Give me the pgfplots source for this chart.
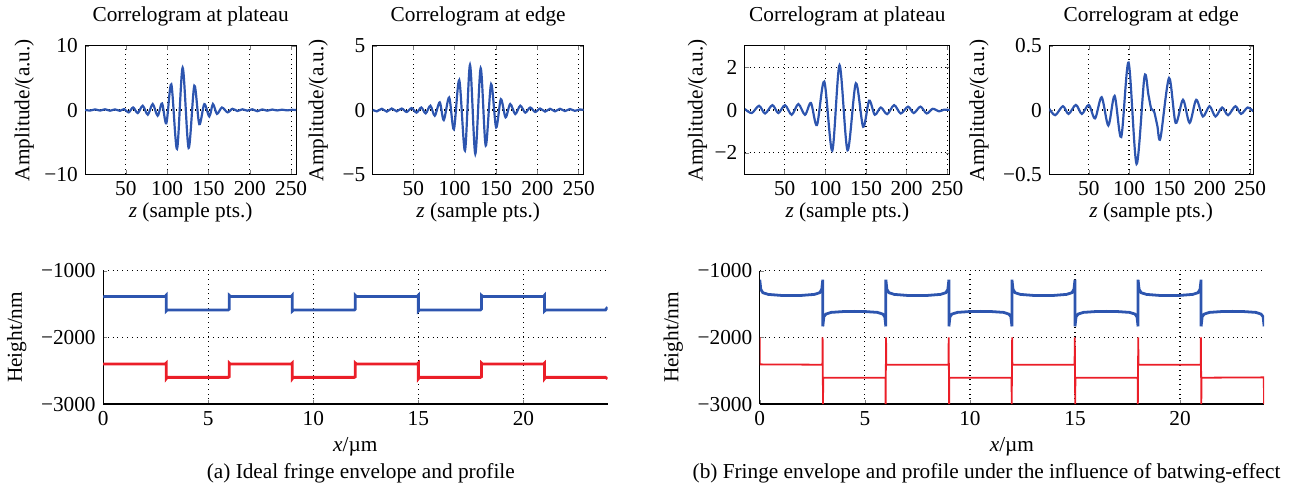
\documentclass[border=0pt]{standalone}
\usepackage{fontspec}
\setmainfont{Liberation Serif}
\usepackage{pgfplots}
\pgfplotsset{compat=1.18}
\definecolor{cblue}{RGB}{45,85,175}
\definecolor{cred}{RGB}{235,30,40}
\pgfplotsset{
  base/.style={scale only axis, anchor=south west,
    grid=major, grid style={dotted, black, line width=0.6pt},
    major tick length=2pt, tick align=inside,
    axis line style={line width=0.6pt},
    tick label style={font=\rmfamily},
    /pgf/number format/assume math mode=true},
  corr/.style={base, height=64.5pt, xmin=1, xmax=256,
    xtick={50,100,150,200,250},
    xlabel={\textit{z} (sample pts.)}, ylabel={Amplitude/(a.u.)},
    xlabel style={yshift=4pt}},
  prof/.style={base, width=253.5pt, height=67pt, xmin=0, xmax=24,
    ymin=-3000, ymax=-1000, xtick={0,5,10,15,20},
    ytick={-3000,-2000,-1000}, yticklabels={−3000,−2000,−1000},
    axis x line*=bottom, axis y line*=left,
    xlabel style={yshift=1.5pt},
    xlabel={\textit{x}/µm}, ylabel={Height/nm}},
  curve/.style={cblue, line width=1.1pt, smooth, no marks},
  step/.style={line width=1.4pt, no marks},
}
\begin{document}
\fontsize{10.7}{12.8}\selectfont
\begin{tikzpicture}
\path (0pt,0pt) rectangle (646.5pt,242pt);

% (a) top left
\begin{axis}[corr, at={(39.5pt,156.5pt)}, width=106pt,
  ymin=-10, ymax=10, ytick={-10,0,10}, yticklabels={−10,0,10},
  ylabel shift=-2pt, title={Correlogram at plateau}]
\addplot[curve] coordinates {(1,0.02) (7,-0.08) (13,0.1) (19,-0.08) (25,0.12) (31,-0.1) (37,0.1) (43,-0.12) (48,0.15) (53.6,-0.36) (58.9,0.41) (64.5,-0.47) (70.5,0.67) (76.6,-0.72) (82.6,0.93) (88.6,-0.88) (93.9,1.03) (99.1,-2.07) (105.1,4.0) (112,-6.05) (118.8,6.6) (126,-5.9) (132.9,3.8) (138.9,-2.2) (145,0.93) (151,-1.0) (155.4,0.93) (160.3,-0.6) (166.3,0.4) (173.1,-0.36) (179,0.2) (185,-0.15) (191,0.12) (197,-0.1) (203,0.12) (209,-0.18) (215,0.1) (221,-0.1) (227,0.08) (233,-0.06) (239,0.06) (245,-0.05) (251,0.04) (256,0)};
\end{axis}

% (a) top right
\begin{axis}[corr, at={(184pt,156.5pt)}, width=106pt,
  ymin=-5, ymax=5, ytick={-5,0,5}, yticklabels={−5,0,5},
  title={Correlogram at edge}]
\addplot[curve] coordinates {(1,0.02) (6,-0.1) (12,0.1) (18,-0.12) (24,0.12) (30,-0.1) (36,0.12) (42,-0.15) (48,0.15) (54,-0.2) (59.7,0.2) (65,-0.26) (70.7,0.34) (76,-0.44) (82,0.6) (86.9,-0.78) (93.4,0.98) (99.1,-1.5) (105.6,2.33) (112.5,-3.16) (118.6,3.52) (125,-3.42) (131.5,3.26) (137.6,-2.77) (144.1,2.02) (150.2,-1.35) (155.9,0.85) (161.6,-0.57) (167.2,0.47) (173.3,-0.31) (179.4,0.34) (185.4,-0.2) (191.4,0.2) (197.4,-0.15) (203.4,0.12) (209.4,-0.12) (215.4,0.1) (221.4,-0.1) (227.4,0.1) (233.4,-0.08) (239.4,0.08) (245.4,-0.06) (251.4,0.05) (256,0)};
\end{axis}

% (b) top left
\begin{axis}[corr, at={(371pt,156.5pt)}, width=103pt, xmax=253,
  ymin=-3, ymax=3, ytick={-2,0,2}, yticklabels={−2,0,2},
  ylabel shift=-3.5pt, title={Correlogram at plateau}]
\addplot[curve] coordinates {(1,0.05) (9.5,-0.14) (18.5,0.2) (25.9,-0.16) (34.9,0.23) (42.2,-0.14) (50.4,0.23) (58.6,-0.22) (66.8,0.28) (75,-0.22) (82.3,0.33) (89.7,-0.7) (98.7,1.33) (108.5,-1.9) (117.5,2.1) (127.3,-1.88) (137.5,1.25) (146.5,-0.78) (153.9,0.44) (160.8,-0.22) (168.2,0.12) (176,-0.19) (184.6,0.23) (192.7,-0.16) (201.7,0.16) (208.7,-0.14) (216.9,0.16) (224.6,-0.16) (232,0.06) (240,-0.06) (246,0.02) (253,0)};
\end{axis}

% (b) top right
\begin{axis}[corr, at={(524pt,156.5pt)}, width=102.5pt, xmax=254,
  ymin=-0.5, ymax=0.5, ytick={-0.5,0,0.5}, yticklabels={−0.5,0,0.5},
  title={Correlogram at edge}]
\addplot[curve] coordinates {(1,0.01) (8.4,-0.04) (17.9,0.03) (24.9,-0.03) (34,0.04) (41.4,-0.03) (50,0.04) (57.8,-0.065) (66,0.1) (74.3,-0.12) (82.1,0.11) (90.3,-0.21) (99.4,0.37) (109.3,-0.42) (119.1,0.26) (124,0.12) (127.5,0.01) (131,-0.01) (135,-0.12) (138.9,-0.22) (149.6,0.25) (157.8,-0.10) (166.9,0.08) (175.1,-0.1) (183.3,0.08) (191.6,-0.05) (199.8,0.03) (207.2,-0.05) (215.4,0.02) (222.8,-0.04) (231.9,0.03) (238.9,-0.03) (247.1,0.02) (254,-0.01)};
\end{axis}

% (a) profile
\begin{axis}[prof, at={(48.5pt,41pt)}]
\addplot[step, cblue] coordinates {(0,-1395) (0.1,-1385) (2.95,-1385) (3,-1368) (3,-1605) (3.05,-1590) (5.95,-1590) (6,-1575) (6,-1370) (6.05,-1385) (8.95,-1385) (9,-1368) (9,-1605) (9.05,-1590) (11.95,-1590) (12,-1575) (12,-1370) (12.05,-1385) (14.95,-1385) (15,-1368) (15,-1605) (15.05,-1590) (17.95,-1590) (18,-1575) (18,-1370) (18.05,-1385) (20.95,-1385) (21,-1368) (21,-1605) (21.05,-1590) (23.9,-1590) (24,-1545)};
\addplot[step, cred] coordinates {(0,-2400) (2.95,-2400) (3,-2385) (3,-2620) (3.05,-2600) (5.95,-2600) (6,-2590) (6,-2385) (6.05,-2400) (8.95,-2400) (9,-2385) (9,-2620) (9.05,-2600) (11.95,-2600) (12,-2590) (12,-2385) (12.05,-2400) (14.95,-2400) (15,-2385) (15,-2620) (15.05,-2600) (17.95,-2600) (18,-2590) (18,-2385) (18.05,-2400) (20.95,-2400) (21,-2385) (21,-2620) (21.05,-2600) (23.9,-2600) (24,-2620)};
\end{axis}

% (b) profile
\begin{axis}[prof, at={(378.5pt,41pt)}]
\addplot[step, cblue] coordinates {
(0,-1135) (0.05,-1280) (0.15,-1330) (0.4,-1355) (1,-1370) (1.5,-1372) (2,-1370) (2.6,-1355) (2.85,-1330) (2.95,-1280) (3,-1135)
(3,-1835) (3.05,-1690) (3.15,-1650) (3.4,-1625) (4,-1612) (4.5,-1610) (5,-1612) (5.6,-1625) (5.85,-1650) (5.95,-1690) (6,-1835)
(6,-1135) (6.05,-1280) (6.15,-1330) (6.4,-1355) (7,-1370) (7.5,-1372) (8,-1370) (8.6,-1355) (8.85,-1330) (8.95,-1280) (9,-1135)
(9,-1835) (9.05,-1690) (9.15,-1650) (9.4,-1625) (10,-1612) (10.5,-1610) (11,-1612) (11.6,-1625) (11.85,-1650) (11.95,-1690) (12,-1835)
(12,-1135) (12.05,-1280) (12.15,-1330) (12.4,-1355) (13,-1370) (13.5,-1372) (14,-1370) (14.6,-1355) (14.85,-1330) (14.95,-1280) (15,-1135)
(15,-1835) (15.05,-1690) (15.15,-1650) (15.4,-1625) (16,-1612) (16.5,-1610) (17,-1612) (17.6,-1625) (17.85,-1650) (17.95,-1690) (18,-1835)
(18,-1135) (18.05,-1280) (18.15,-1330) (18.4,-1355) (19,-1370) (19.5,-1372) (20,-1370) (20.6,-1355) (20.85,-1330) (20.95,-1280) (21,-1135)
(21,-1835) (21.05,-1690) (21.15,-1650) (21.4,-1625) (22,-1612) (22.5,-1610) (23,-1612) (23.6,-1625) (23.85,-1650) (23.95,-1690) (24,-1835)};
\addplot[cred, line width=0.9pt, no marks] coordinates {(0,-2000) (0,-2405) (2.98,-2410) (2.99,-2000) (3.01,-3000) (3.02,-2605) (5.98,-2605) (5.99,-3000) (6.01,-2000) (6.02,-2410) (8.98,-2410) (8.99,-2000) (9.01,-3000) (9.02,-2605) (11.98,-2605) (11.99,-3000) (12.01,-2000) (12.02,-2410) (14.98,-2410) (14.99,-2000) (15.01,-3000) (15.02,-2605) (17.98,-2605) (17.99,-3000) (18.01,-2000) (18.02,-2410) (20.98,-2410) (20.99,-2000) (21.01,-3000) (21.02,-2605) (23.98,-2600) (24,-3000)};
\end{axis}

\node at (178pt,6pt) {(a) Ideal fringe envelope and profile};
\node at (492.5pt,6pt) {(b) Fringe envelope and profile under the influence of batwing-effect};
\end{tikzpicture}
\end{document}
